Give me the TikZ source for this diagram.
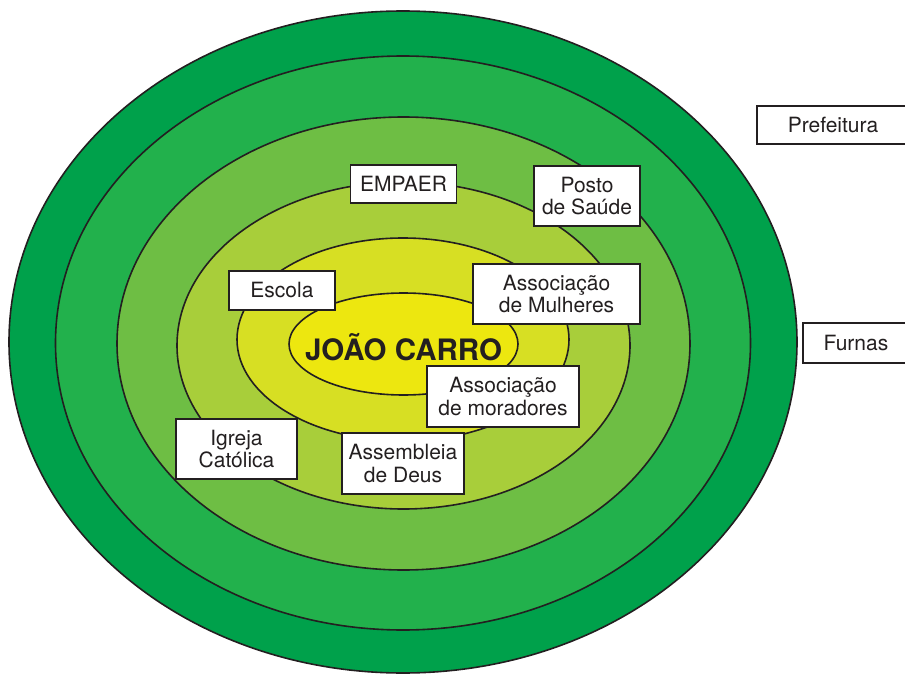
\documentclass[tikz,border=0pt]{standalone}
\usepackage{fontspec}
\setmainfont{TeX Gyre Heros}
\definecolor{ringA}{HTML}{00A14B}
\definecolor{ringB}{HTML}{22B14C}
\definecolor{ringC}{HTML}{6EBE44}
\definecolor{ringD}{HTML}{A8CE3A}
\definecolor{ringE}{HTML}{D7DF23}
\definecolor{ringF}{HTML}{EDE70F}
\definecolor{ink}{HTML}{231F20}
\tikzset{
  ring/.style={draw=ink, line width=1.6pt},
  lbl/.style={draw=ink, fill=white, line width=1.6pt, inner sep=0pt, align=center,
    text=ink, font=\fontsize{21}{22.5}\selectfont},
  plain/.style={text=ink, font=\fontsize{21}{22.5}\selectfont},
}
\begin{document}
\begin{tikzpicture}[x=1pt,y=-1pt]
\useasboundingbox (0,0) rectangle (905,674);
\clip (0,0) rectangle (905,674);
\fill[white] (0,0) rectangle (905,674);
\draw[ring, fill=ringA] (403,342) ellipse [x radius=394pt, y radius=331pt];
\draw[ring, fill=ringB] (403,343) ellipse [x radius=347.5pt, y radius=287pt];
\draw[ring, fill=ringC] (403.5,343.5) ellipse [x radius=286.5pt, y radius=226.5pt];
\draw[ring, fill=ringD] (403.5,345.5) ellipse [x radius=226.5pt, y radius=163.5pt];
\draw[ring, fill=ringE] (403,339.5) ellipse [x radius=166pt, y radius=101.5pt];
\draw[ring, fill=ringF] (403.5,344) ellipse [x radius=114.5pt, y radius=51pt];
\node[text=ink, font=\fontsize{29.5}{31}\selectfont\bfseries] (joao) at (403.5,347) {JOÃO CARRO};
\node[lbl, minimum width=106pt, minimum height=38pt] (empaer) at (403.5,184) {EMPAER};
\node[lbl, minimum width=106pt, minimum height=60pt] (posto) at (587,196) {Posto\\de Saúde};
\node[lbl, minimum width=167pt, minimum height=60pt] (mulheres) at (556.5,294) {Associação\\de Mulheres};
\node[lbl, minimum width=106pt, minimum height=39pt] (escola) at (282,290.5) {Escola};
\node[lbl, minimum width=152pt, minimum height=61pt] (moradores) at (503,396.5) {Associação\\de moradores};
\node[lbl, minimum width=121pt, minimum height=60pt] (igreja) at (236.5,449) {Igreja\\Católica};
\node[lbl, minimum width=122pt, minimum height=61pt] (assembleia) at (403,463.5) {Assembleia\\de Deus};
\node[lbl, minimum width=160pt, minimum height=38pt] (pref) at (837,125) {};
\node[plain] (preftxt) at (833,125) {Prefeitura};
\node[lbl, minimum width=120pt, minimum height=40pt] (furnas) at (863,343) {};
\node[plain] (furnastxt) at (856,343) {Furnas};
\end{tikzpicture}
\end{document}
